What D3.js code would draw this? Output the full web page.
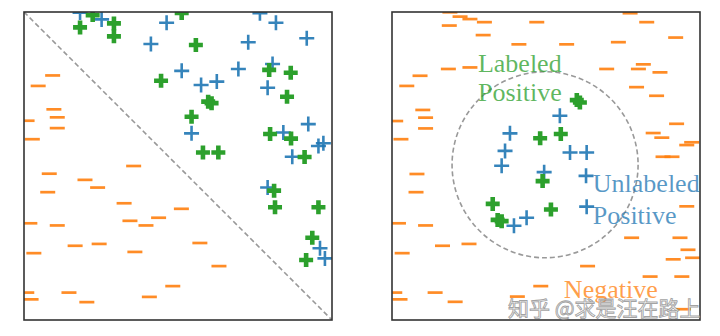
<!DOCTYPE html>
<html><head><meta charset="utf-8">
<script src="https://cdn.jsdelivr.net/npm/d3@7"></script>
<style>html,body{margin:0;padding:0;background:#fff;} svg{display:block;}</style>
</head><body>
<svg id="chart" width="720" height="336"></svg>
<script>
// ---- Left panel (linear boundary) ----
const leftUnlabeled = [
  [0.182,0.998],[0.252,0.976],[0.463,0.965],[0.766,0.996],[0.818,0.965],[0.918,0.915],
  [0.412,0.896],[0.728,0.902],[0.512,0.809],[0.696,0.815],[0.807,0.831],[0.575,0.763],
  [0.626,0.774],[0.791,0.754],[0.544,0.606],[0.923,0.636],[0.842,0.609],[0.956,0.565],
  [0.972,0.574],[0.871,0.530],[0.791,0.430],[0.961,0.233],[0.977,0.200]
];
const leftLabeled = [
  [0.223,0.990],[0.182,0.950],[0.292,0.963],[0.292,0.921],[0.512,0.997],[0.558,0.893],
  [0.445,0.777],[0.796,0.812],[0.866,0.803],[0.854,0.725],[0.598,0.709],[0.609,0.704],
  [0.544,0.660],[0.799,0.604],[0.867,0.589],[0.581,0.544],[0.631,0.544],[0.911,0.529],
  [0.812,0.420],[0.815,0.366],[0.956,0.366],[0.936,0.267],[0.916,0.195]
];
const leftNegative = [
  [0.093,0.794],[0.046,0.760],[0.097,0.684],[0.108,0.658],[0.010,0.647],[0.108,0.623],
  [0.027,0.587],[0.356,0.500],[0.082,0.475],[0.198,0.455],[0.239,0.430],[0.077,0.415],
  [0.325,0.379],[0.511,0.361],[0.019,0.314],[0.108,0.307],[0.344,0.322],[0.437,0.332],
  [0.396,0.307],[0.166,0.241],[0.244,0.247],[0.571,0.250],[0.032,0.217],[0.360,0.221],
  [0.633,0.175],[0.483,0.110],[0.009,0.089],[0.146,0.089],[0.023,0.067],[0.204,0.058],
  [0.407,0.075]
];
// ---- Right panel (circular boundary) ----
const rightUnlabeled = [
  [0.545,0.663],[0.383,0.606],[0.367,0.549],[0.578,0.544],[0.632,0.544],[0.356,0.501],
  [0.494,0.480],[0.630,0.468],[0.632,0.368],[0.437,0.332],[0.396,0.306]
];
const rightLabeled = [
  [0.600,0.714],[0.610,0.706],[0.548,0.604],[0.481,0.590],[0.489,0.451],[0.327,0.377],
  [0.343,0.325],[0.356,0.321],[0.516,0.359]
];
const rightNegative = [
  [0.188,0.999],[0.221,0.985],[0.253,0.977],[0.300,0.967],[0.186,0.956],[0.470,0.967],
  [0.773,0.996],[0.827,0.967],[0.296,0.925],[0.412,0.895],[0.567,0.895],[0.735,0.902],
  [0.921,0.917],[0.183,0.815],[0.253,0.820],[0.091,0.793],[0.048,0.760],[0.697,0.815],
  [0.800,0.815],[0.816,0.830],[0.870,0.804],[0.794,0.756],[0.859,0.728],[0.100,0.682],
  [0.109,0.657],[0.012,0.646],[0.109,0.622],[0.029,0.587],[0.924,0.637],[0.848,0.607],
  [0.876,0.592],[0.973,0.577],[0.957,0.568],[0.880,0.530],[0.909,0.530],[0.081,0.474],
  [0.078,0.415],[0.021,0.314],[0.109,0.307],[0.164,0.241],[0.250,0.247],[0.033,0.217],
  [0.957,0.369],[0.778,0.267],[0.935,0.267],[0.961,0.228],[0.913,0.197],[0.976,0.202],
  [0.635,0.175],[0.838,0.141],[0.941,0.141],[0.483,0.110],[0.407,0.076],[0.009,0.089],
  [0.140,0.089],[0.026,0.067],[0.205,0.059],[0.946,0.035]
];
const rightLabelText = ["Labeled", "Positive", "Unlabeled", "Positive", "Negative"];
const watermarkText = "知乎 @求是汪在路上";

const size = 308;
const svg = d3.select("#chart");
const x = d3.scaleLinear().domain([0, 1]).range([0, size]);
const y = d3.scaleLinear().domain([0, 1]).range([size, 0]);
const C = {lab: "#2ca02c", unl: "#1f77b4", neg: "#ff7f0e"};

function drawPoints(plot, neg, unl, lab) {
  plot.append("g").selectAll("path").data(neg).join("path")
    .attr("transform", d => `translate(${x(d[0])},${y(d[1])})`)
    .attr("d", "M-7.5,0H7.5").attr("stroke", C.neg).attr("stroke-width", 2.7)
    .attr("stroke-opacity", 0.9).attr("fill", "none");
  plot.append("g").selectAll("path").data(unl).join("path")
    .attr("transform", d => `translate(${x(d[0])},${y(d[1])})`)
    .attr("d", "M-7.5,0H7.5M0,-7.5V7.5").attr("stroke", C.unl).attr("stroke-width", 2.6)
    .attr("stroke-opacity", 0.9).attr("fill", "none");
  plot.append("g").selectAll("path").data(lab).join("path")
    .attr("transform", d => `translate(${x(d[0])},${y(d[1])})`)
    .attr("d", "M-7,0H7M0,-7V7").attr("stroke", C.lab).attr("stroke-width", 4.6)
    .attr("fill", "none");
}

function panel(id, left, top) {
  const g = svg.append("g").attr("transform", `translate(${left},${top})`);
  g.append("clipPath").attr("id", id).append("rect").attr("width", size).attr("height", size);
  const plot = g.append("g").attr("clip-path", `url(#${id})`);
  return {g, plot};
}

// Left
const L = panel("clipL", 24, 12);
L.plot.append("line")
  .attr("x1", x(0)).attr("y1", y(1)).attr("x2", x(1)).attr("y2", y(0))
  .attr("stroke", "#999").attr("stroke-width", 1.6).attr("stroke-dasharray", "5,3");
drawPoints(L.plot, leftNegative, leftUnlabeled, leftLabeled);
L.g.append("rect").attr("width", size).attr("height", size)
  .attr("fill", "none").attr("stroke", "#333").attr("stroke-width", 1.6);

// Right
const R = panel("clipR", 392, 12);
R.plot.append("ellipse")
  .attr("cx", x(0.497)).attr("cy", y(0.504))
  .attr("rx", x(0.302) - x(0)).attr("ry", y(0) - y(0.302))
  .attr("fill", "none").attr("stroke", "#999").attr("stroke-width", 1.6).attr("stroke-dasharray", "5,3");
drawPoints(R.plot, rightNegative, rightUnlabeled, rightLabeled);
R.g.append("rect").attr("width", size).attr("height", size)
  .attr("fill", "none").attr("stroke", "#333").attr("stroke-width", 1.6);

const font = "'Liberation Serif', 'Times New Roman', serif";
const labels = [
  {t: rightLabelText[0], px: 0.279, py: 0.806, c: C.lab},
  {t: rightLabelText[1], px: 0.279, py: 0.711, c: C.lab},
  {t: rightLabelText[2], px: 0.652, py: 0.414, c: C.unl},
  {t: rightLabelText[3], px: 0.652, py: 0.311, c: C.unl},
  {t: rightLabelText[4], px: 0.558, py: 0.071, c: C.neg}
];
R.g.selectAll("text.lbl").data(labels).join("text").attr("class", "lbl")
  .attr("x", d => x(d.px)).attr("y", d => y(d.py))
  .attr("font-family", font).attr("font-size", 26)
  .attr("fill", d => d.c).attr("fill-opacity", 0.75)
  .text(d => d.t);

// watermark
svg.append("text").attr("x", 508).attr("y", 316)
  .attr("font-family", "'Noto Sans CJK SC', sans-serif").attr("font-size", 21)
  .attr("fill", "#ffffff").attr("fill-opacity", 0.85)
  .attr("stroke", "#8a8a8a").attr("stroke-width", 0.9).attr("stroke-opacity", 0.8)
  .text(watermarkText);
</script>
</body></html>
